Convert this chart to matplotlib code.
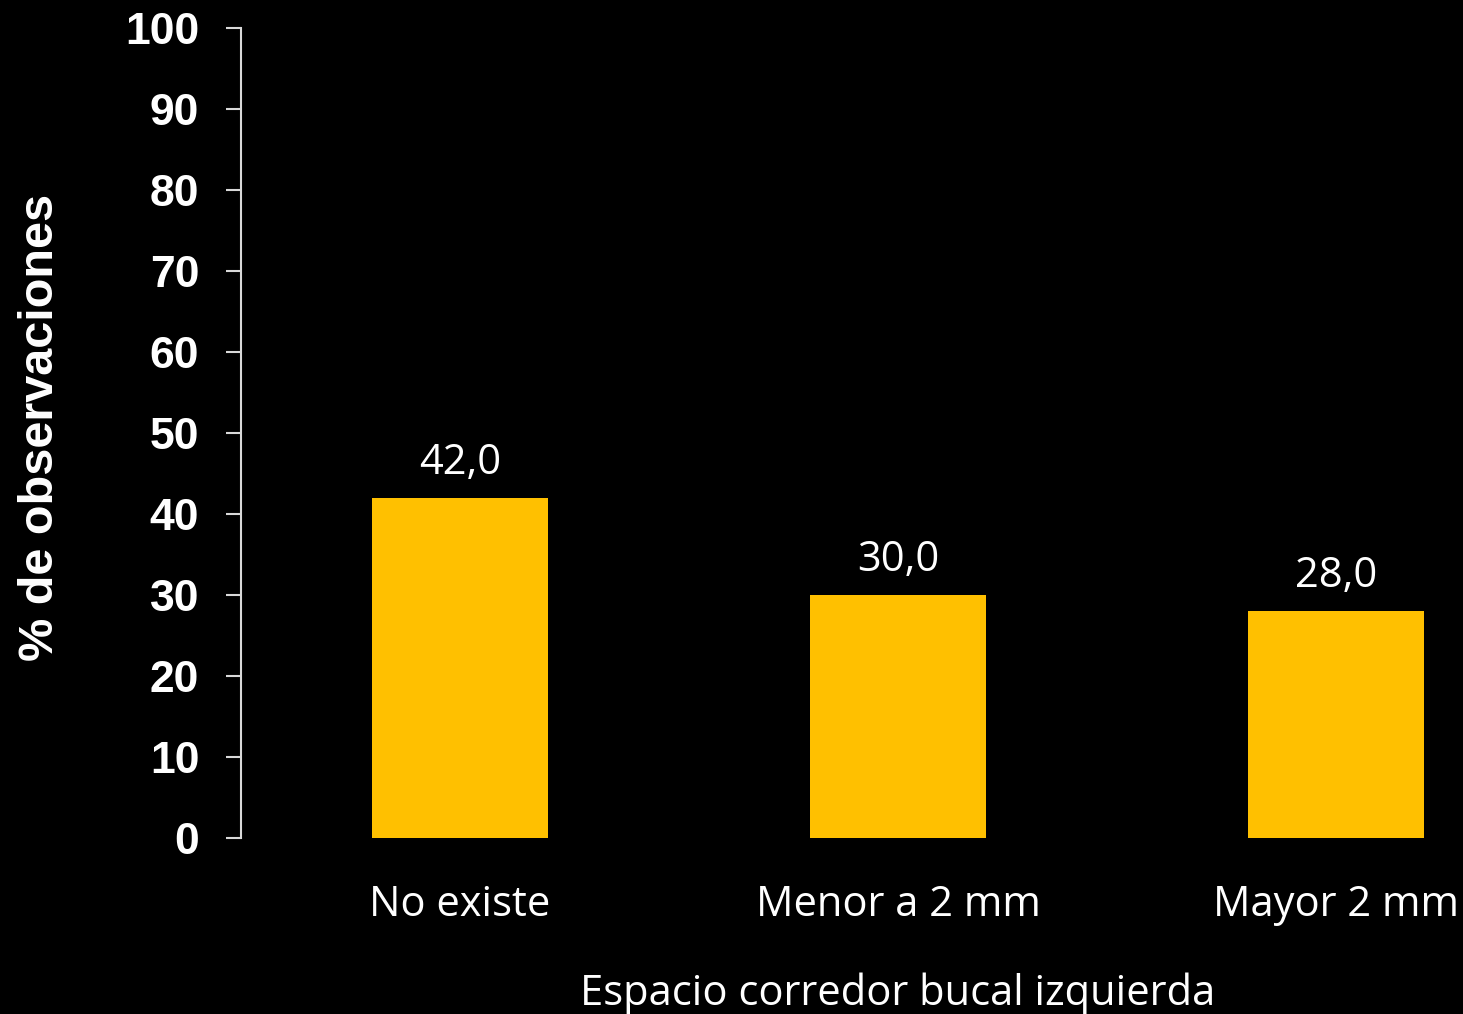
import matplotlib.pyplot as plt

categories = ['No existe', 'Menor a 2 mm', 'Mayor 2 mm']
values = [42.0, 30.0, 28.0]
yticks = [0, 10, 20, 30, 40, 50, 60, 70, 80, 90, 100]

bar_color = '#FFC000'
text_font = ['Open Sans', 'DejaVu Sans']
bold_font = ['Liberation Sans', 'DejaVu Sans']

fig = plt.figure(figsize=(14.63, 10.14), dpi=100, facecolor='black')
# axes runs past the right edge like in the original slide
ax = fig.add_axes([241 / 1463, 1 - 838 / 1014, 1314 / 1463, 810 / 1014])
ax.set_facecolor('black')

x = list(range(len(categories)))
bars = ax.bar(x, values, width=0.4, color=bar_color, zorder=2)

for b, v in zip(bars, values):
    ax.annotate(f'{v:.1f}'.replace('.', ','),
                (b.get_x() + b.get_width() / 2, b.get_height()),
                xytext=(0, 10), textcoords='offset points',
                ha='center', va='bottom', color='white',
                fontsize=30, family=text_font)

ax.set_xlim(-0.5, 2.5)
ax.set_ylim(0, 100)
ax.set_yticks(yticks)
ax.set_yticklabels([str(t) for t in yticks], fontsize=32, fontweight='bold',
                   family=bold_font, color='white')
ax.set_xticks(x)
ax.set_xticklabels(categories, fontsize=30, family=text_font, color='white')

ax.tick_params(axis='y', direction='out', length=11, width=1.5, color='#d9d9d9', pad=19)
ax.tick_params(axis='x', length=0, pad=33)

for s in ['top', 'right', 'bottom']:
    ax.spines[s].set_visible(False)
ax.spines['left'].set_color('#d9d9d9')
ax.spines['left'].set_linewidth(1.5)

fig.text(41 / 1463, 1 - 427 / 1014, '% de observaciones', rotation=90,
         ha='center', va='center', fontsize=35, fontweight='bold',
         family=bold_font, color='white')
fig.text(898 / 1463, 1 - 994 / 1014, 'Espacio corredor bucal izquierda',
         ha='center', va='center', fontsize=30, family=text_font, color='white')

fig.savefig('out.png', dpi=100, facecolor='black')
